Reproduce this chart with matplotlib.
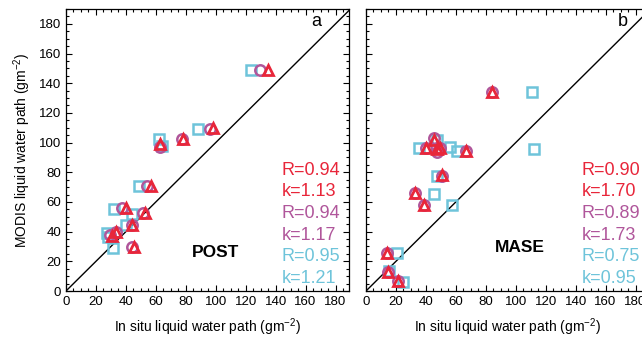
import matplotlib
matplotlib.use("Agg")
import matplotlib.pyplot as plt
from matplotlib.ticker import MultipleLocator

plt.rcParams['font.family'] = ['Liberation Sans', 'DejaVu Sans']
plt.rcParams['mathtext.default'] = 'regular'

RED = '#e8263a'
PURPLE = '#b0569b'
CYAN = '#6ec4da'

# panel a (POST)
post_tri_x = [134.9, 98.2, 78.2, 62.7, 56.7, 39.8, 52.7, 43.8, 33.3, 30.4, 45.5]
post_tri_y = [148.6, 109.5, 102.3, 98.9, 71.0, 55.7, 52.4, 44.5, 40.0, 37.1, 29.5]
post_cir_x = [129.3, 96.4, 77.6, 63.0, 53.8, 37.6, 51.6, 43.8, 33.3, 29.6, 44.2]
post_cir_y = [148.6, 109.0, 102.3, 97.0, 70.7, 55.7, 52.4, 44.5, 39.5, 37.5, 29.5]
post_sq_x = [123.8, 88.4, 62.2, 63.8, 48.9, 32.0, 43.8, 40.0, 27.6, 28.2, 31.6]
post_sq_y = [148.6, 109.0, 102.3, 97.8, 70.8, 55.5, 51.9, 44.5, 38.9, 36.7, 29.3]

# panel b (MASE)
mase_tri_x = [84.4, 45.3, 40.0, 49.3, 47.1, 67.1, 50.9, 32.7, 38.7, 13.8, 14.4, 21.1]
mase_tri_y = [134.4, 101.8, 96.2, 96.6, 95.8, 94.6, 78.2, 65.9, 58.2, 25.8, 12.6, 6.9]
mase_cir_x = [84.4, 45.3, 40.0, 49.3, 47.1, 67.1, 50.9, 32.7, 38.7, 13.8, 14.4, 21.1]
mase_cir_y = [134.4, 103.2, 96.4, 96.4, 93.7, 94.0, 77.5, 65.9, 58.2, 25.8, 12.6, 6.9]
mase_sq_x = [110.9, 112.0, 35.5, 47.1, 56.0, 60.5, 47.1, 45.6, 57.6, 20.5, 15.6, 24.9]
mase_sq_y = [134.4, 95.8, 96.2, 101.8, 97.3, 94.4, 77.5, 65.4, 57.8, 25.8, 13.5, 6.3]

post_stats = ['R=0.94', 'k=1.13', 'R=0.94', 'k=1.17', 'R=0.95', 'k=1.21']
mase_stats = ['R=0.90', 'k=1.70', 'R=0.89', 'k=1.73', 'R=0.75', 'k=0.95']
stat_colors = [RED, RED, PURPLE, PURPLE, CYAN, CYAN]

fig = plt.figure(figsize=(6.42, 3.41), dpi=100)
ax1 = fig.add_axes([66/642, 50/341, 283/642, 282/341])
ax2 = fig.add_axes([366/642, 50/341, 283/642, 282/341])

panels = [
    (ax1, post_sq_x, post_sq_y, post_cir_x, post_cir_y, post_tri_x, post_tri_y, post_stats, 'POST', 'a', 0.527, 0.136, 0.886),
    (ax2, mase_sq_x, mase_sq_y, mase_cir_x, mase_cir_y, mase_tri_x, mase_tri_y, mase_stats, 'MASE', 'b', 0.542, 0.155, 0.909),
]

for ax, sx, sy, cx, cy, tx, ty, stats, name, letter, nx, ny, lx in panels:
    ax.plot([0, 200], [0, 200], color='black', lw=1.0, zorder=1)
    ax.plot(sx, sy, 's', ms=6.5, mfc='none', mec=CYAN, mew=1.8, zorder=2)
    ax.plot(cx, cy, 'o', ms=7.5, mfc='none', mec=PURPLE, mew=1.8, zorder=3)
    ax.plot(tx, ty, '^', ms=7.5, mfc='none', mec=RED, mew=2.0, zorder=4)
    ax.set_xlim(0, 189)
    ax.set_ylim(0, 190)
    ax.xaxis.set_major_locator(MultipleLocator(20))
    ax.xaxis.set_minor_locator(MultipleLocator(5))
    ax.yaxis.set_major_locator(MultipleLocator(20))
    ax.yaxis.set_minor_locator(MultipleLocator(5))
    ax.tick_params(which='both', direction='in', top=True, right=True, width=0.8, labelsize=9.5, pad=3.5)
    ax.tick_params(which='major', length=4.5)
    ax.tick_params(which='minor', length=2.5)
    for sp in ax.spines.values():
        sp.set_linewidth(0.9)
    ax.set_xlabel('In situ liquid water path (gm$^{-2}$)', fontsize=10, labelpad=6)
    for i, (s, c) in enumerate(zip(stats, stat_colors)):
        ax.text(0.763, 0.429 - i * 0.077, s, color=c, fontsize=13,
                transform=ax.transAxes, ha='left', va='center')
    ax.text(nx, ny, name, fontsize=12.5, fontweight='bold',
            transform=ax.transAxes, ha='center', va='center')
    ax.text(lx, 0.955, letter, fontsize=13, transform=ax.transAxes,
            ha='center', va='center')

ax1.set_ylabel('MODIS liquid water path (gm$^{-2}$)', fontsize=10, labelpad=4)
ax2.tick_params(labelleft=False)

fig.savefig('out.png', dpi=100)
